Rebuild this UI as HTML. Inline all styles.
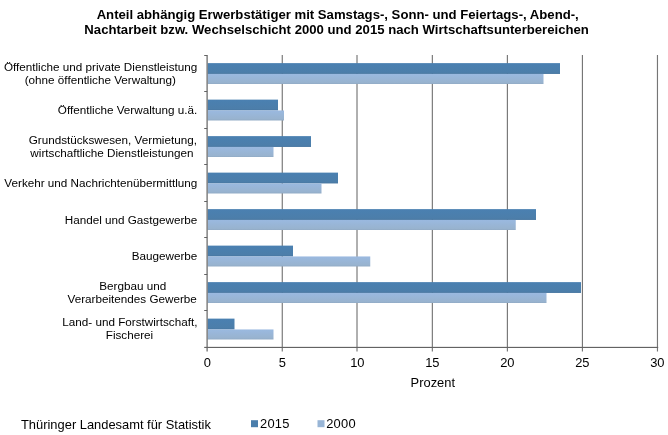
<!DOCTYPE html>
<html lang="de"><head><meta charset="utf-8"><title>Anteil abhängig Erwerbstätiger</title>
<style>
html,body{margin:0;padding:0;background:#fff;}
body{width:668px;height:435px;overflow:hidden;font-family:"Liberation Sans",sans-serif;}
svg{display:block}
text{font-family:"Liberation Sans",sans-serif;fill:#000}
.t{font-size:13.15px;font-weight:bold;text-anchor:middle}
.l{font-size:11.7px}
.e{text-anchor:end}
.m{text-anchor:middle}
.b{font-size:12.9px}
</style></head><body>
<svg width="668" height="435" viewBox="0 0 668 435">
<defs>
<linearGradient id="gd" x1="0" y1="0" x2="0" y2="1"><stop offset="0" stop-color="#4a80b1"/><stop offset="0.85" stop-color="#4c7eaa"/><stop offset="1" stop-color="#47759f"/></linearGradient>
<linearGradient id="gl" x1="0" y1="0" x2="0" y2="1"><stop offset="0" stop-color="#9ab9e0"/><stop offset="0.85" stop-color="#98b3cf"/><stop offset="1" stop-color="#8fa9c4"/></linearGradient>
</defs>
<rect width="668" height="435" fill="#fff"/>
<text class="t" x="337.7" y="19">Anteil abhängig Erwerbstätiger mit Samstags-, Sonn- und Feiertags-, Abend-,</text>
<text class="t" x="336.6" y="34">Nachtarbeit bzw. Wechselschicht 2000 und 2015 nach Wirtschaftsunterbereichen</text>
<g fill="#767676">
<rect x="281.69" y="55" width="1.15" height="296.5"/>
<rect x="356.43" y="55" width="1.15" height="296.5"/>
<rect x="431.77" y="55" width="1.15" height="296.5"/>
<rect x="506.81" y="55" width="1.15" height="296.5"/>
<rect x="581.85" y="55" width="1.15" height="296.5"/>
<rect x="656.89" y="55" width="1.15" height="296.5"/>
</g>
<rect x="207.7" y="63.12" width="352.30" height="10.83" fill="url(#gd)"/>
<rect x="207.7" y="73.95" width="335.80" height="10.03" fill="url(#gl)"/>
<rect x="207.7" y="99.62" width="70.30" height="10.83" fill="url(#gd)"/>
<rect x="207.7" y="110.45" width="76.30" height="10.03" fill="url(#gl)"/>
<rect x="207.7" y="136.12" width="103.30" height="10.83" fill="url(#gd)"/>
<rect x="207.7" y="146.95" width="65.80" height="10.03" fill="url(#gl)"/>
<rect x="207.7" y="172.62" width="130.30" height="10.83" fill="url(#gd)"/>
<rect x="207.7" y="183.45" width="113.80" height="10.03" fill="url(#gl)"/>
<rect x="207.7" y="209.12" width="328.30" height="10.83" fill="url(#gd)"/>
<rect x="207.7" y="219.95" width="308.05" height="10.03" fill="url(#gl)"/>
<rect x="207.7" y="245.62" width="85.30" height="10.83" fill="url(#gd)"/>
<rect x="207.7" y="256.45" width="162.55" height="10.03" fill="url(#gl)"/>
<rect x="207.7" y="282.12" width="373.30" height="10.83" fill="url(#gd)"/>
<rect x="207.7" y="292.95" width="338.80" height="10.03" fill="url(#gl)"/>
<rect x="207.7" y="318.62" width="26.80" height="10.83" fill="url(#gd)"/>
<rect x="207.7" y="329.45" width="65.80" height="10.03" fill="url(#gl)"/>
<g fill="#636363">
<rect x="206.5" y="55" width="1.2" height="296.5"/>
<rect x="204.2" y="346.85" width="454" height="1.15"/>
<rect x="204.2" y="55" width="3" height="1"/>
<rect x="204.2" y="91" width="3" height="1"/>
<rect x="204.2" y="128" width="3" height="1"/>
<rect x="204.2" y="164" width="3" height="1"/>
<rect x="204.2" y="201" width="3" height="1"/>
<rect x="204.2" y="237" width="3" height="1"/>
<rect x="204.2" y="274" width="3" height="1"/>
<rect x="204.2" y="310" width="3" height="1"/>
</g>
<text class="l m" x="100.6" y="71.00">Öffentliche und private Dienstleistung</text>
<text class="l m" x="100.3" y="84.00">(ohne öffentliche Verwaltung)</text>
<text class="l e" x="197.3" y="114.00">Öffentliche Verwaltung u.ä.</text>
<text class="l m" x="112.85" y="144.00">Grundstückswesen, Vermietung,</text>
<text class="l m" x="111.9" y="157.00">wirtschaftliche Dienstleistungen</text>
<text class="l e" x="197.3" y="187.00">Verkehr und Nachrichtenübermittlung</text>
<text class="l e" x="197.3" y="224.00">Handel und Gastgewerbe</text>
<text class="l e" x="197.3" y="260.00">Baugewerbe</text>
<text class="l m" x="132.7" y="290.00">Bergbau und</text>
<text class="l m" x="132.2" y="303.00">Verarbeitendes Gewerbe</text>
<text class="l m" x="129.85" y="326.00">Land- und Forstwirtschaft,</text>
<text class="l m" x="129.5" y="339.00">Fischerei</text>
<text class="b m" x="207.3" y="367">0</text>
<text class="b m" x="282.3" y="367">5</text>
<text class="b m" x="357.3" y="367">10</text>
<text class="b m" x="432.3" y="367">15</text>
<text class="b m" x="507.3" y="367">20</text>
<text class="b m" x="582.3" y="367">25</text>
<text class="b m" x="657.3" y="367">30</text>
<text class="b m" x="432.8" y="387">Prozent</text>
<text class="b" x="21" y="428.6">Thüringer Landesamt für Statistik</text>
<rect x="251" y="420.2" width="7" height="7" fill="#4b7eac"/>
<text class="b" x="260" y="428.2" style="letter-spacing:0.25px">2015</text>
<rect x="317.5" y="420.2" width="7" height="7" fill="#98b5d6"/>
<text class="b" x="326.2" y="428.2" style="letter-spacing:0.25px">2000</text>
</svg>
</body></html>
